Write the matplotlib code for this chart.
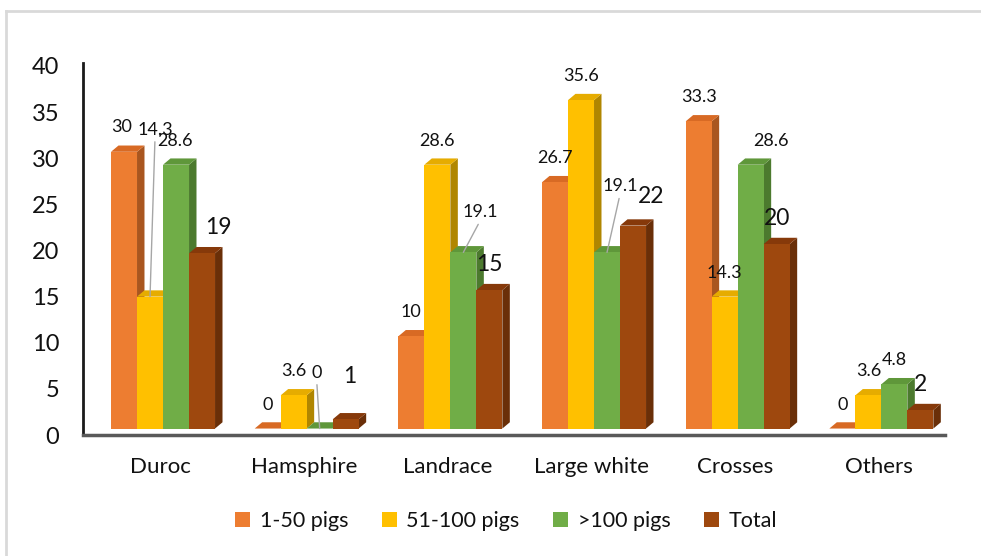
import matplotlib
matplotlib.use("Agg")
import matplotlib.pyplot as plt
from matplotlib.patches import Polygon, Patch
from matplotlib.lines import Line2D
import numpy as np

plt.rcParams['font.family'] = ['Lato', 'DejaVu Sans']

# data
categories = ['Duroc', 'Hamsphire', 'Landrace', 'Large white', 'Crosses', 'Others']
series_names = ['1-50 pigs', '51-100 pigs', '>100 pigs', 'Total']
pigs_1_50 = [30, 0, 10, 26.7, 33.3, 0]
pigs_51_100 = [14.3, 3.6, 28.6, 35.6, 14.3, 3.6]
pigs_100_plus = [28.6, 0, 19.1, 19.1, 28.6, 4.8]
total = [19, 1, 15, 22, 20, 2]
value_labels = [
    ['30', '0', '10', '26.7', '33.3', '0'],
    ['14.3', '3.6', '28.6', '35.6', '14.3', '3.6'],
    ['28.6', '0', '19.1', '19.1', '28.6', '4.8'],
    ['19', '1', '15', '22', '20', '2'],
]

# styling
front_cols = ['#ED7D31', '#FFC000', '#70AD47', '#9E480E']
side_cols = ['#A9561F', '#B08600', '#4C7A2E', '#6A2F08']
top_cols = ['#D86A24', '#E6AC00', '#5F973A', '#86390A']

W, H = 981, 556
fig = plt.figure(figsize=(W / 100, H / 100), dpi=100)
ax = fig.add_axes([83 / W, 121 / H, 862 / W, 369 / H])
ax.set_xlim(-0.5, 5.5)
ax.set_ylim(0, 40)

bw = 0.181      # bar width (x units)
x0 = -0.305     # left edge of first bar relative to category
dx = 0.052      # depth, x units
dy = 0.68       # depth, y units
base = 0.7      # bars sit back on the floor

# label offsets in pixels (dx, dy above front top), default and moved ones
default_off = [(0, 24), (0, 24), (0, 24), (0, 26)]
moved = {
    (0, 0): (-2, 25, False),
    (1, 0): (5, 167, True),
    (2, 0): (-1, 24, False),
    (3, 0): (16, 26, False),
    (2, 1): (-3, 56, True),
    (3, 1): (4, 43, False),
    (2, 2): (17, 40, True),
    (2, 3): (13, 66, True),
    (3, 3): (18, 29, False),
    (2, 4): (20, 24, False),
}

all_series = [pigs_1_50, pigs_51_100, pigs_100_plus, total]
px2pt = 72 / 100

for ci in range(len(categories)):
    for si, vals in enumerate(all_series):
        v = vals[ci]
        xl = ci + x0 + si * bw
        xr = xl + bw
        zo = 2 + ci * 10 + si * 2
        side = Polygon([(xr, base), (xr + dx, base + dy), (xr + dx, base + v + dy), (xr, base + v)],
                       closed=True, facecolor=side_cols[si], edgecolor='none', zorder=zo)
        top = Polygon([(xl, base + v), (xr, base + v), (xr + dx, base + v + dy), (xl + dx, base + v + dy)],
                      closed=True, facecolor=top_cols[si], edgecolor='none', zorder=zo)
        ax.add_patch(side)
        ax.add_patch(top)
        ax.bar(xl, v, width=bw, bottom=base, align='edge', color=front_cols[si],
               edgecolor='none', zorder=zo + 1)

        fs = 16.5 if si == 3 else 13
        if (si, ci) in moved:
            ox, oy, leader = moved[(si, ci)]
        else:
            ox, oy = default_off[si]
            leader = False
        arrow = None
        if leader:
            arrow = dict(arrowstyle='-', color='#A6A6A6', lw=1, shrinkA=1, shrinkB=0,
                         relpos=(0.5, 0.0))
        ax.annotate(value_labels[si][ci], xy=(xl + bw / 2, base + v),
                    xytext=(ox * px2pt, oy * px2pt), textcoords='offset points',
                    ha='center', va='center', fontsize=fs, color='#111111',
                    arrowprops=arrow, zorder=100, annotation_clip=False)

for s in ['top', 'right']:
    ax.spines[s].set_visible(False)
ax.spines['left'].set_color('#1a1a1a')
ax.spines['left'].set_linewidth(2)
ax.spines['left'].set_bounds(0, 40.3)
ax.spines['bottom'].set_color('#595959')
ax.spines['bottom'].set_linewidth(2.5)

ax.set_yticks(np.arange(0, 41, 5))
ax.set_xticks(np.arange(len(categories)) + 0.04)
ax.set_xticklabels(categories)
ax.tick_params(axis='y', length=0, pad=17, labelsize=17, labelcolor='#111111')
ax.tick_params(axis='x', length=0, pad=16, labelsize=16, labelcolor='#111111')

handles = [Patch(facecolor=c, edgecolor='none') for c in front_cols]
fig.legend(handles, series_names, loc='center', bbox_to_anchor=(506 / W, 1 - 521 / H),
           ncol=4, frameon=False, fontsize=15.5, handlelength=0.7, handleheight=0.7,
           handletextpad=0.45, columnspacing=1.55, labelcolor='#111111')

# light chart frame
fig.add_artist(Line2D([6 / W, 1], [1 - 11 / H, 1 - 11 / H], color='#D9D9D9', lw=2))
fig.add_artist(Line2D([6 / W, 6 / W], [0, 1 - 11 / H], color='#D9D9D9', lw=2))

fig.savefig('out.png', dpi=100)
